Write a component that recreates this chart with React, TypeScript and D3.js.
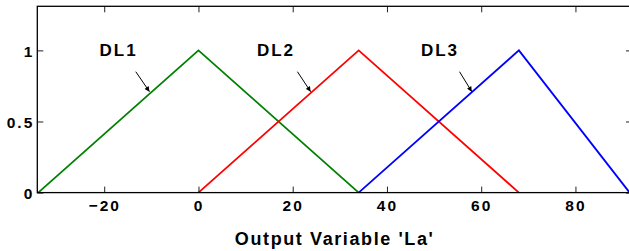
import * as d3 from 'd3';
import React, { useEffect, useRef } from 'react';

const width = 629;
const height = 251;
const margin = { top: 6.3, right: -3, bottom: 58.4, left: 37.3 };

// membership functions of the output variable 'La'
const dl1X = [-34, 0, 34];
const dl2X = [0, 34, 68];
const dl3X = [34, 68, 91.5];
const dlY = [0, 1, 0];
const dlNames = ['DL1', 'DL2', 'DL3'];
const dlColors = ['#008000', '#ff0000', '#0000ff'];

// label positions (data units) and arrow tail/tip
const labelX = [-21, 12.4, 47.2];
const labelY = 0.962;
const arrowTailX = [-13.3, 21.0, 55.4];
const arrowTipX = [-10.4, 23.8, 58.0];
const arrowTailY = 0.85;
const arrowTipY = 0.71;

const xTicks = [-20, 0, 20, 40, 60, 80];
const yTicks = [0, 0.5, 1];
const xDomain = [-34.2, 92];
const yDomain = [0, 1.31];
const xTitle = "Output Variable 'La'";

const font = 'Liberation Sans, Arial, Helvetica, sans-serif';

const App = () => {
  const xAxisRef = useRef(null);
  const yAxisRef = useRef(null);
  const topAxisRef = useRef(null);
  const rightAxisRef = useRef(null);

  const x0 = margin.left;
  const x1 = width - margin.right;
  const y0 = height - margin.bottom;
  const y1 = margin.top;

  const xScale = d3.scaleLinear().domain(xDomain).range([x0, x1]);
  const yScale = d3.scaleLinear().domain(yDomain).range([y0, y1]);

  const line = d3.line<[number, number]>()
    .x(d => xScale(d[0]))
    .y(d => yScale(d[1]));

  const series = [dl1X, dl2X, dl3X].map(xs => xs.map((v, i) => [v, dlY[i]] as [number, number]));

  useEffect(() => {
    const xAxis = d3.axisBottom(xScale).tickValues(xTicks).tickSize(-6).tickPadding(8).tickFormat(d3.format('d'));
    const yAxis = d3.axisLeft(yScale).tickValues(yTicks).tickSize(-6).tickPadding(3).tickFormat(d => String(d));
    const topAxis = d3.axisTop(xScale).tickValues(xTicks).tickSize(-6).tickFormat(() => '');
    const rightAxis = d3.axisRight(yScale).tickValues(yTicks).tickSize(-6).tickFormat(() => '');

    const style = (sel) => {
      sel.select('.domain').remove();
      sel.selectAll('.tick line').attr('stroke', '#222').attr('stroke-width', 1);
      sel.selectAll('.tick text')
        .attr('fill', '#000')
        .style('font-family', font)
        .style('font-size', '15.5px')
        .style('font-weight', 'bold')
        .style('letter-spacing', '2px');
    };

    d3.select(xAxisRef.current).call(xAxis).call(style);
    d3.select(xAxisRef.current).selectAll('.tick text').attr('dy', '0.68em');
    d3.select(yAxisRef.current).call(yAxis).call(style);
    d3.select(yAxisRef.current).selectAll('.tick text').attr('dy', '0.37em');
    d3.select(topAxisRef.current).call(topAxis).call(style);
    d3.select(rightAxisRef.current).call(rightAxis).call(style);
  }, []);

  return (
    <svg width={width} height={height} style={{ position: 'absolute', left: 0, top: 0, background: '#fff' }}>
      <defs>
        <marker id="arrowhead" viewBox="0 0 10 10" refX="10" refY="5" markerWidth="6" markerHeight="5" orient="auto" markerUnits="userSpaceOnUse">
          <path d="M0,0 L10,5 L0,10 z" fill="#000" />
        </marker>
      </defs>
      <rect x={0} y={0} width={width} height={height} fill="#fff" />
      {series.map((s, i) => (
        <path key={dlNames[i]} d={line(s)} fill="none" stroke={dlColors[i]} strokeWidth={1.8} />
      ))}
      <g ref={xAxisRef} transform={`translate(0, ${y0})`} />
      <g ref={yAxisRef} transform={`translate(${x0}, 0)`} />
      <g ref={topAxisRef} transform={`translate(0, ${y1})`} />
      <g ref={rightAxisRef} transform={`translate(${x1}, 0)`} />
      <rect x={x0} y={y1} width={x1 - x0} height={y0 - y1} fill="none" stroke="#000" strokeWidth={1.3} />
      {dlNames.map((name, i) => (
        <g key={name}>
          <text x={xScale(labelX[i])} y={yScale(labelY)} fontFamily={font} fontSize={17} fontWeight="bold" letterSpacing={2} fill="#000">
            {name}
          </text>
          <line
            x1={xScale(arrowTailX[i])} y1={yScale(arrowTailY)}
            x2={xScale(arrowTipX[i])} y2={yScale(arrowTipY)}
            stroke="#000" strokeWidth={1} markerEnd="url(#arrowhead)"
          />
        </g>
      ))}
      <text x={(x0 + x1) / 2} y={245.3} textAnchor="middle" fontFamily={font} fontSize={18} fontWeight="bold" letterSpacing={1.6} fill="#000">
        {xTitle}
      </text>
    </svg>
  );
};

export default App;
